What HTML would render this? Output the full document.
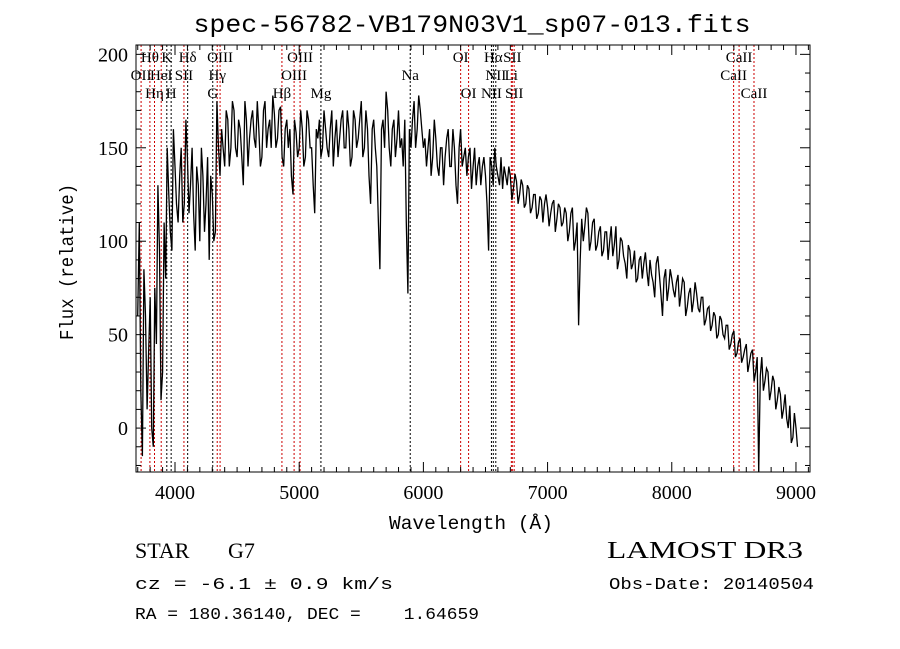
<!DOCTYPE html>
<html><head><meta charset="utf-8"><style>
html,body{margin:0;padding:0;background:#fff;}
svg{display:block;}
text{fill:#000;white-space:pre;}
</style></head><body>
<svg id="chart" width="900" height="649" viewBox="0 0 900 649" xmlns="http://www.w3.org/2000/svg" xml:space="preserve">
<rect x="0" y="0" width="900" height="649" fill="#fff"/>
<text x="472" y="32" text-anchor="middle" font-family="Liberation Mono, monospace" font-size="25" textLength="557" lengthAdjust="spacingAndGlyphs">spec-56782-VB179N03V1_sp07-013.fits</text>
<g id="lines"></g>
<g id="labels"></g>
<path id="spec" fill="none" stroke="#000" stroke-width="1.3"/>
<rect x="136" y="45" width="674" height="427" fill="none" stroke="#000" stroke-width="1"/>
<g id="axes"></g>
<text x="471" y="529" text-anchor="middle" font-family="Liberation Mono, monospace" font-size="19" textLength="164" lengthAdjust="spacingAndGlyphs">Wavelength (Å)</text>
<text transform="translate(73,262) rotate(-90)" text-anchor="middle" font-family="Liberation Mono, monospace" font-size="19" textLength="156" lengthAdjust="spacingAndGlyphs">Flux (relative)</text>
<text x="135" y="558" font-family="Liberation Serif, serif" font-size="22">STAR</text>
<text x="228" y="558" font-family="Liberation Serif, serif" font-size="22">G7</text>
<text x="135" y="589" font-family="Liberation Mono, monospace" font-size="17" textLength="258" lengthAdjust="spacingAndGlyphs">cz = -6.1 ± 0.9 km/s</text>
<text x="135" y="619" font-family="Liberation Mono, monospace" font-size="17" textLength="344" lengthAdjust="spacingAndGlyphs">RA = 180.36140, DEC =    1.64659</text>
<text x="607" y="558" font-family="Liberation Serif, serif" font-size="24" textLength="196" lengthAdjust="spacingAndGlyphs">LAMOST DR3</text>
<text x="609" y="589" font-family="Liberation Mono, monospace" font-size="17" textLength="205" lengthAdjust="spacingAndGlyphs">Obs-Date: 20140504</text>
</svg>
<script>
const waveStart = 3700;
const waveStep = 25;
const flux = [60,20,85,10,70,-10,45,95,30,
80,125,95,140,110,150,120,145,130,115,140,100,135,120,90,125,
105,150,160,140,165,150,170,145,160,130,165,155,
170,150,160,145,175,160,150,168,155,172,140,165,160,125,158,150,
160,145,165,150,115,155,145,170,150,160,140,165,155,170,150,160,
145,165,155,175,150,160,120,165,140,85,165,180,150,160,145,170,
155,165,72,150,175,160,170,150,140,160,145,155,135,150,145,160,
140,150,120,160,145,135,150,140,130,145,140,135,95,140,150,135,
145,140,130,135,128,132,125,130,120,128,118,125,115,122,120,118,
115,122,112,118,110,115,105,118,100,55,112,108,115,100,112,98,
108,95,105,100,92,108,90,100,88,98,85,95,80,92,88,84,
90,78,88,82,60,85,75,80,70,82,72,78,65,75,68,72,
62,70,58,65,55,60,50,58,48,55,45,52,40,48,38,45,
35,42,30,-25,38,25,30,20,25,15,18,10,5,12,-5,0];
const fluxMid = [110,-15,60,40,0,75,130,15,110,
150,105,160,120,135,110,165,115,150,95,130,150,105,145,135,100,
175,135,150,170,140,175,150,165,145,175,140,165,
155,175,140,170,150,165,178,150,170,145,160,150,135,165,145,170,
140,170,150,130,160,165,150,160,145,170,155,145,165,150,170,140,
170,150,165,145,170,135,160,150,110,160,150,170,140,165,155,150,
140,110,160,165,150,178,160,155,150,135,165,140,150,130,155,140,
160,130,150,140,150,145,128,150,140,130,145,120,145,130,140,130,
128,135,140,122,136,120,133,118,130,115,125,112,124,110,125,108,
120,105,120,108,118,100,115,95,110,90,100,118,95,110,95,105,
92,105,90,108,98,85,102,92,80,95,88,78,90,80,94,76,
82,70,92,72,80,68,85,74,78,65,80,60,72,62,78,64,
70,55,64,52,62,48,60,50,55,42,50,38,46,35,42,30,
40,25,38,28,20,32,15,28,10,22,5,18,0,-8,8,-10];
const lineWaves = [3727,3798,3835,3889,3934,3969,4072,4102,4304,4340,4363,4861,4959,5007,5175,5894,6300,6364,6548,6563,6583,6708,6716,6731,8498,8542,8662];
const lineNames = ["OII","Hθ","Hη","HeI","K","H","SII","Hδ","G","Hγ","OIII","Hβ","OIII","OIII","Mg","Na","OI","OI","NII","Hα","NII","Li","SII","SII","CaII","CaII","CaII"];
const lineRows = [1,0,2,1,0,2,1,0,2,1,0,2,1,0,2,1,0,2,2,0,1,1,0,2,1,0,2];
const lineAbs = [0,0,0,0,1,1,0,1,1,0,0,0,0,0,1,1,0,0,1,1,1,0,0,0,0,0,0];
const xTicks = [4000,5000,6000,7000,8000,9000];
const yTicks = [0,50,100,150,200];

const X0=136,X1=810,Y0=472,Y1=45;
const xMin=3686,xMax=9113,yMin=-23.5,yMax=205;
const xs=w=>X0+(w-xMin)/(xMax-xMin)*(X1-X0);
const ys=v=>Y0-(v-yMin)/(yMax-yMin)*(Y0-Y1);
const NS="http://www.w3.org/2000/svg";
function mk(tag,attrs,parent){const e=document.createElementNS(NS,tag);for(const k in attrs)e.setAttribute(k,attrs[k]);parent.appendChild(e);return e;}

let d="";
flux.forEach((v,i)=>{
  const w=waveStart+i*waveStep;
  d+=(i?"L":"M")+xs(w).toFixed(1)+","+ys(Math.max(yMin,v)).toFixed(1);
  if(i<fluxMid.length) d+="L"+xs(w+waveStep/2).toFixed(1)+","+ys(Math.max(yMin,fluxMid[i])).toFixed(1);
});
document.getElementById("spec").setAttribute("d",d);

const gl=document.getElementById("lines"),gt=document.getElementById("labels");
lineWaves.forEach((w,i)=>{
  const x=xs(w);
  const ln=mk("line",{x1:x,x2:x,y1:Y1,y2:Y0,stroke:lineAbs[i]?"#000":"#c00","stroke-width":1,"stroke-dasharray":"2,2"},gl);
  
  
  const t=mk("text",{x:x,y:62+lineRows[i]*18,"text-anchor":"middle","font-family":"Liberation Serif, serif","font-size":15},gt);
  t.textContent=lineNames[i];
  
  
});

const ga=document.getElementById("axes");
for(let w=3700;w<=9100;w+=100){const x=xs(w);const maj=w%1000===0;
  mk("line",{x1:x,x2:x,y1:Y0,y2:Y0-(maj?10:5),stroke:"#000"},ga);
  mk("line",{x1:x,x2:x,y1:Y1,y2:Y1+(maj?10:5),stroke:"#000"},ga);}
xTicks.forEach(w=>{const t=mk("text",{x:xs(w),y:Y0+27,"text-anchor":"middle","font-family":"Liberation Serif, serif","font-size":20},ga);t.textContent=w;
  
  });
for(let v=-20;v<=200;v+=10){const y=ys(v);const maj=v%50===0;
  mk("line",{x1:X0,x2:X0+(maj?10:5),y1:y,y2:y,stroke:"#000"},ga);
  mk("line",{x1:X1,x2:X1-(maj?10:5),y1:y,y2:y,stroke:"#000"},ga);}
yTicks.forEach(v=>{const t=mk("text",{x:X0-8,y:ys(v)+7,"text-anchor":"end","font-family":"Liberation Serif, serif","font-size":20},ga);t.textContent=v;
  
  });
</script>
</body></html>
